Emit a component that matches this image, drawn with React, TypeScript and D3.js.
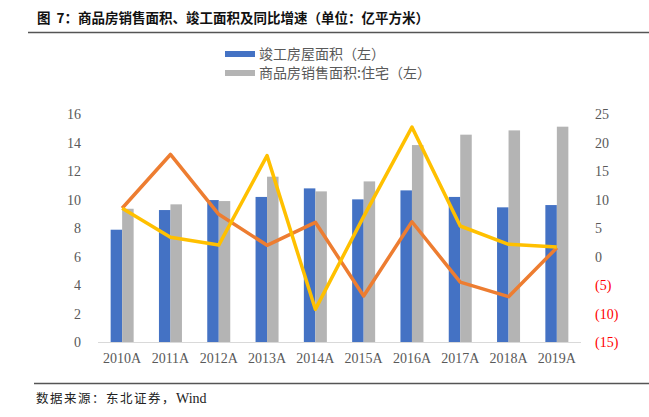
import { useEffect, useRef } from 'react';
import * as d3 from 'd3';

const years = ['2010A', '2011A', '2012A', '2013A', '2014A', '2015A', '2016A', '2017A', '2018A', '2019A'];
const completedArea = [7.88, 9.26, 9.96, 10.18, 10.78, 10.01, 10.64, 10.18, 9.45, 9.61];
const salesArea = [9.35, 9.66, 9.89, 11.6, 10.57, 11.27, 13.82, 14.55, 14.85, 15.11];
const completedGrowth = [8.46, 17.9, 7.4, 1.96, 6.0, -6.93, 6.1, -4.5, -7.05, 1.55];
const salesGrowth = [8.46, 3.37, 2.0, 17.7, -9.27, 7.0, 22.7, 5.35, 2.14, 1.67];
const leftTicks = [0, 2, 4, 6, 8, 10, 12, 14, 16];
const rightTicks = [-15, -10, -5, 0, 5, 10, 15, 20, 25];
const barSeries = ['竣工房屋面积（左）', '商品房销售面积:住宅（左）'];

const W = 649;
const H = 417;
const serif = '"Liberation Serif", "Times New Roman", serif';
const cjk = '"Noto Sans CJK SC", sans-serif';

export default function App() {
  const svgRef = useRef<SVGSVGElement>(null);

  useEffect(() => {
    if (!svgRef.current) return;
    const svg = d3.select(svgRef.current);
    svg.selectAll('*').remove();

    const left = 98, right = 581, top = 114, bottom = 342;

    const x0 = d3.scaleBand().domain(years).range([left, right]);
    const x1 = d3.scaleBand().domain(['a', 'b']).range([0, x0.bandwidth()]).paddingOuter(1.1);
    const yL = d3.scaleLinear().domain([0, 16]).range([bottom, top]);
    const yR = d3.scaleLinear().domain([-15, 25]).range([bottom, top]);

    // Title
    const title = svg.append('text')
      .attr('x', 37).attr('y', 23)
      .attr('font-family', cjk).attr('font-weight', 'bold').attr('font-size', 13.5)
      .attr('fill', '#111');
    title.append('tspan').text('图');
    title.append('tspan').attr('dx', 6).text('7：商品房销售面积、竣工面积及同比增速（单位：亿平方米）');
    svg.append('line')
      .attr('x1', 28).attr('x2', W).attr('y1', 32.5).attr('y2', 32.5)
      .attr('stroke', '#555').attr('stroke-width', 1.5);

    // Legend
    const legendColors = ['#4472C4', '#B4B4B4'];
    barSeries.forEach((name, i) => {
      const ly = 54 + i * 19;
      svg.append('rect')
        .attr('x', 225).attr('y', ly - 3).attr('width', 30).attr('height', 6)
        .attr('fill', legendColors[i]);
      svg.append('text')
        .attr('x', 259).attr('y', ly + 5)
        .attr('font-family', cjk).attr('font-size', 14).attr('fill', '#595959')
        .text(name);
    });

    // Bars
    const g = svg.append('g');
    years.forEach((yr, i) => {
      const bx = x0(yr) || 0;
      g.append('rect')
        .attr('x', bx + (x1('a') || 0)).attr('width', x1.bandwidth())
        .attr('y', yL(completedArea[i])).attr('height', bottom - yL(completedArea[i]))
        .attr('fill', '#4472C4');
      g.append('rect')
        .attr('x', bx + (x1('b') || 0)).attr('width', x1.bandwidth())
        .attr('y', yL(salesArea[i])).attr('height', bottom - yL(salesArea[i]))
        .attr('fill', '#B4B4B4');
    });

    // Baseline
    svg.append('line')
      .attr('x1', left).attr('x2', right).attr('y1', bottom + 0.5).attr('y2', bottom + 0.5)
      .attr('stroke', '#D9D9D9').attr('stroke-width', 1);

    // Lines
    const cx = (i: number) => (x0(years[i]) || 0) + x0.bandwidth() / 2;
    const line = d3.line<number>().x((_, i) => cx(i)).y(d => yR(d));
    svg.append('path').datum(completedGrowth)
      .attr('d', line).attr('fill', 'none')
      .attr('stroke', '#ED7D31').attr('stroke-width', 3.5).attr('stroke-linejoin', 'round');
    svg.append('path').datum(salesGrowth)
      .attr('d', line).attr('fill', 'none')
      .attr('stroke', '#FFC000').attr('stroke-width', 3.5).attr('stroke-linejoin', 'round');

    // Left axis labels
    leftTicks.forEach(t => {
      svg.append('text')
        .attr('x', 81).attr('y', yL(t) + 5)
        .attr('text-anchor', 'end')
        .attr('font-family', serif).attr('font-size', 14).attr('fill', '#595959')
        .text(t);
    });

    // Right axis labels
    rightTicks.forEach(t => {
      svg.append('text')
        .attr('x', 595).attr('y', yR(t) + 5)
        .attr('font-family', serif).attr('font-size', 14)
        .attr('fill', t < 0 ? '#FF0000' : '#595959')
        .text(t < 0 ? `(${Math.abs(t)})` : t);
    });

    // X labels
    years.forEach((yr, i) => {
      svg.append('text')
        .attr('x', cx(i)).attr('y', 363)
        .attr('text-anchor', 'middle')
        .attr('font-family', serif).attr('font-size', 14).attr('fill', '#595959')
        .text(yr);
    });

    // Footer
    svg.append('line')
      .attr('x1', 34).attr('x2', W).attr('y1', 383.5).attr('y2', 383.5)
      .attr('stroke', '#555').attr('stroke-width', 1.5);
    const foot = svg.append('text')
      .attr('x', 36).attr('y', 403)
      .attr('font-size', 12.5).attr('fill', '#222');
    foot.append('tspan').attr('font-family', cjk).attr('letter-spacing', 1.5).text('数据来源：东北证券，');
    foot.append('tspan').attr('font-family', serif).attr('font-size', 14).text('Wind');
  }, []);

  return (
    <div style={{ position: 'absolute', left: 0, top: 0, background: '#fff' }}>
      <svg ref={svgRef} width={W} height={H} />
    </div>
  );
}
